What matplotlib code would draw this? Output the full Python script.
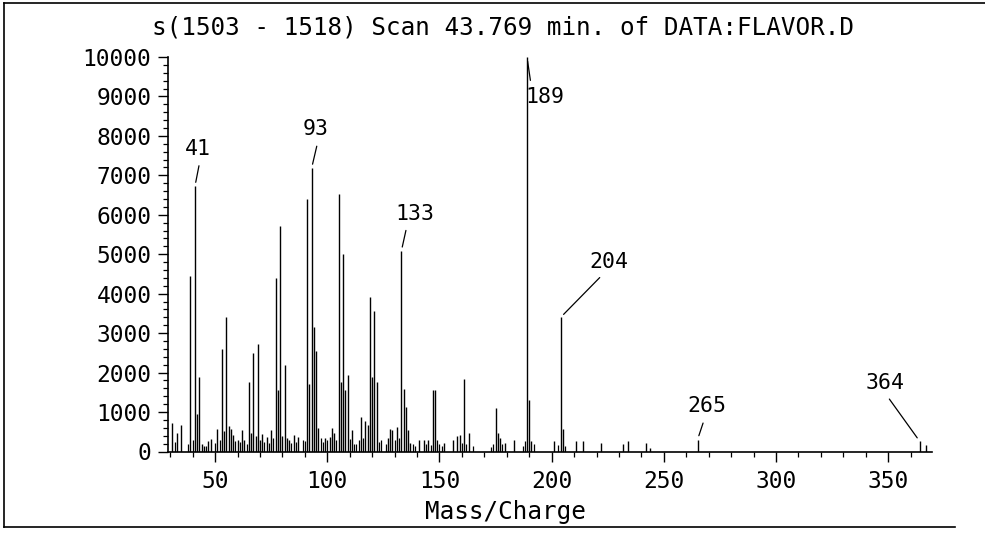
import matplotlib
matplotlib.use("Agg")
import matplotlib.pyplot as plt
from matplotlib.lines import Line2D
from matplotlib.ticker import MultipleLocator

plt.rcParams['font.family'] = ['DejaVu Sans Mono']

# scan data (main peaks)
mz = [31, 33, 35, 39, 41, 42, 43, 44, 45, 47, 48, 51, 53, 54, 55, 56, 57, 58,
      60, 62, 63, 65, 66, 67, 68, 69, 70, 71, 73, 75, 77, 78, 79, 80, 81, 82,
      83, 85, 87, 91, 92, 93, 94, 95, 96, 99, 101, 102, 103, 105, 106, 107,
      108, 109, 111, 115, 117, 118, 119, 120, 121, 122, 127, 128, 129, 131,
      133, 134, 135, 136, 137, 141, 143, 145, 147, 148, 152, 156, 158, 159,
      161, 163, 175, 176, 177, 179, 183, 189, 190, 191, 201, 204, 205, 211,
      214, 222, 232, 234, 242, 244, 265, 364, 367]
abundance = [720, 470, 670, 4450, 6720, 960, 1890, 200, 130, 260, 310, 580,
             2600, 520, 3420, 650, 560, 430, 290, 540, 300, 1760, 460, 2500,
             400, 2730, 300, 450, 360, 550, 4410, 1550, 5710, 400, 2180, 350,
             290, 410, 380, 6390, 1720, 7180, 3150, 2560, 600, 330, 380, 600,
             460, 6530, 1760, 5000, 1550, 1930, 540, 880, 780, 680, 3910, 1890,
             3570, 1760, 340, 570, 540, 620, 5080, 1590, 1130, 540, 210, 300,
             300, 280, 1550, 1550, 210, 290, 390, 420, 1850, 470, 1100, 470,
             340, 220, 300, 10000, 1300, 260, 260, 3400, 560, 260, 260, 210,
             180, 260, 210, 90, 300, 260, 170]

# small background ions between the main peaks
minor_mz = [32, 38, 40, 46, 50, 52, 59, 61, 64, 72, 74, 76, 84, 86, 89, 90,
            97, 98, 100, 104, 110, 112, 113, 114, 116, 123, 124, 126, 130,
            132, 138, 139, 144, 146, 149, 150, 151, 160, 162, 165, 173, 174,
            178, 187, 188, 192, 203, 206]
minor_abundance = [250, 180, 300, 150, 220, 280, 260, 230, 200, 240, 210, 330,
                   220, 250, 300, 260, 330, 250, 300, 280, 320, 180, 200, 300,
                   330, 250, 280, 200, 300, 350, 180, 150, 200, 170, 280, 200,
                   150, 220, 200, 150, 120, 180, 200, 150, 260, 180, 170, 150]

# labelled peaks: text offset (points) and where the tie line leaves the text
labels = [41, 93, 133, 189, 204, 265, 364]
label_offsets = [(2, 27), (3, 28), (10, 27), (13, -29), (35, 40), (7, 24), (-25, 42)]
label_relpos = [(0.6, 0), (0.6, 0), (0.3, 0), (0.15, 1), (0.4, 0), (0.45, 0), (0.5, 0)]

title = "s(1503 - 1518) Scan 43.769 min. of DATA:FLAVOR.D"
fs = 16.5

fig = plt.figure(figsize=(9.85, 5.34), dpi=100)
ax = fig.add_axes([168 / 985, (534 - 451.5) / 534, (932 - 168) / 985, (451.5 - 57) / 534])

ax.vlines(minor_mz, 0, minor_abundance, colors='black', linewidth=0.9)
ax.vlines(mz, 0, abundance, colors='black', linewidth=1.0)

ax.set_xlim(29, 369.5)
ax.set_ylim(0, 10000)
ax.xaxis.set_major_locator(MultipleLocator(50))
ax.xaxis.set_minor_locator(MultipleLocator(10))
ax.yaxis.set_major_locator(MultipleLocator(1000))
ax.yaxis.set_minor_locator(MultipleLocator(200))
ax.tick_params(which='major', length=7, width=1.0, direction='out', labelsize=fs)
ax.tick_params(which='minor', length=3.5, width=0.9, direction='out')
ax.tick_params(axis='x', pad=6)
ax.tick_params(axis='y', pad=5)
ax.spines['top'].set_visible(False)
ax.spines['right'].set_visible(False)
ax.spines['left'].set_linewidth(1.2)
ax.spines['bottom'].set_linewidth(1.2)

lookup = dict(zip(mz, abundance))
for m, off, rp in zip(labels, label_offsets, label_relpos):
    ax.annotate(str(m), xy=(m, lookup[m]), xytext=off, textcoords='offset points',
                ha='center', va='center', fontsize=15.5,
                arrowprops=dict(arrowstyle='-', color='black', lw=0.9,
                                relpos=rp, shrinkA=3, shrinkB=3))

fig.text(503 / 985, 1 - 28 / 534, title, ha='center', va='center', fontsize=17.5)
fig.text(505 / 985, 1 - 512 / 534, "Mass/Charge", ha='center', va='center', fontsize=17.5)

# page border of the scan
fig.add_artist(Line2D([4 / 985, 4 / 985], [1 - 3 / 534, 1 - 527 / 534], color='black', lw=1.2))
fig.add_artist(Line2D([4 / 985, 1.0], [1 - 3 / 534, 1 - 3 / 534], color='black', lw=1.2))
fig.add_artist(Line2D([4 / 985, 955 / 985], [1 - 527 / 534, 1 - 527 / 534], color='black', lw=1.2))

fig.savefig("out.png", dpi=100)
